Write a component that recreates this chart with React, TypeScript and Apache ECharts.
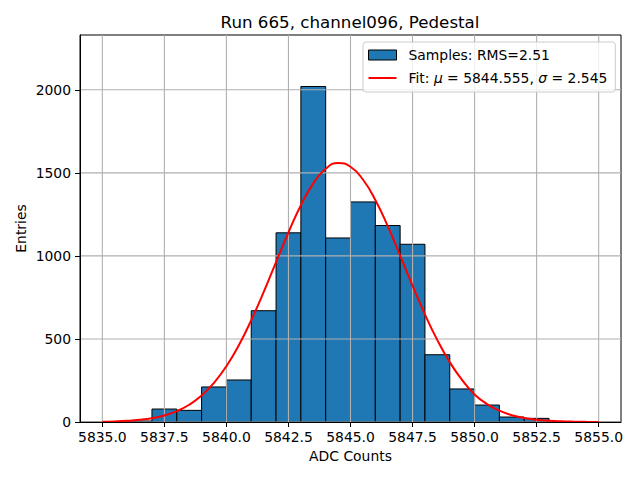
import React, { useEffect, useRef } from "react";
import * as echarts from "echarts";

// Histogram bin edges and counts
const binEdges = [5836, 5837, 5838, 5839, 5840, 5841, 5842, 5843, 5844, 5845, 5846, 5847, 5848, 5849, 5850, 5851, 5852, 5853];
const counts = [6, 78, 70, 211, 253, 670, 1139, 2020, 1108, 1325, 1183, 1070, 405, 199, 102, 30, 22];

// Fit curve samples
const fitX = [5835, 5835.5, 5836, 5836.5, 5837, 5837.5, 5838, 5838.5, 5839, 5839.5, 5840, 5840.5, 5841, 5841.5, 5842, 5842.5, 5843, 5843.5, 5844, 5844.5, 5845, 5845.5, 5846, 5846.5, 5847, 5847.5, 5848, 5848.5, 5849, 5849.5, 5850, 5850.5, 5851, 5851.5, 5852, 5852.5, 5853, 5853.5, 5854, 5854.5, 5855];
const fitY = [1.8, 3.6, 7, 13, 23, 39, 65, 104, 159, 236, 336, 462, 613, 782, 963, 1141, 1305, 1437, 1525, 1560, 1537, 1460, 1337, 1179, 1002, 821, 648, 493, 360, 252, 166, 108, 68, 41, 24, 13.5, 7.5, 4, 2, 1, 0.5];

// Tick labels
const xTicks = [5835, 5837.5, 5840, 5842.5, 5845, 5847.5, 5850, 5852.5, 5855];
const yTicks = [0, 500, 1000, 1500, 2000];

const TITLE = "Run 665, channel096, Pedestal";
const SAMPLES_LABEL = "Samples: RMS=2.51";
const FIT_LABEL = "Fit: {i|μ} = 5844.555, {i|σ} = 2.545";

const FONT = "DejaVu Sans";
const BAR_COLOR = "#1f77b4";
const GRID_COLOR = "#b0b0b0";
const LINE_ICON = "path://M0,0 M28,10 M0,4 L28,4 L28,6 L0,6 Z";

export default function App() {
  const ref = useRef<HTMLDivElement>(null);
  useEffect(() => {
    if (!ref.current) return;
    const chart = echarts.init(ref.current, null, { renderer: "svg" });
    const histData = counts.map((c, i) => [binEdges[i], binEdges[i + 1], c]);
    const fitData = fitX.map((x, i) => [x, fitY[i]]);
    const option: any = {
      animation: false,
      backgroundColor: "#fff",
      textStyle: { fontFamily: FONT },
      title: {
        text: TITLE,
        left: 350,
        top: 13,
        textAlign: "center",
        padding: 0,
        textStyle: { fontFamily: FONT, fontSize: 16.7, fontWeight: "normal", color: "#000" },
      },
      grid: {
        left: 80,
        right: 19,
        top: 35,
        bottom: 58,
        show: true,
        borderColor: "#000",
        borderWidth: 1,
        backgroundColor: "#fff",
      },
      legend: {
        orient: "vertical",
        left: 363,
        top: 42,
        padding: [5, 8, 6, 5],
        itemGap: 7,
        itemWidth: 28,
        itemHeight: 10,
        backgroundColor: "rgba(255,255,255,0.8)",
        borderColor: "#cccccc",
        borderWidth: 1,
        borderRadius: 3,
        z: 10,
        data: [
          { name: "Samples", icon: "rect", itemStyle: { color: BAR_COLOR, borderColor: "#000", borderWidth: 1 } },
          { name: "Fit", icon: LINE_ICON, itemStyle: { color: "#ff0000", borderWidth: 0 } },
        ],
        formatter: (name: string) => (name === "Samples" ? SAMPLES_LABEL : FIT_LABEL),
        textStyle: {
          fontFamily: FONT,
          fontSize: 13.9,
          color: "#000",
          lineHeight: 16,
          padding: [0, 0, 0, 7],
          rich: {
            i: { fontFamily: FONT, fontSize: 13.9, fontStyle: "italic", color: "#000" },
          },
        },
      },
      xAxis: {
        type: "value",
        min: 5834.1,
        max: 5855.9,
        z: 5,
        name: "ADC Counts",
        nameLocation: "middle",
        nameGap: 27,
        nameTextStyle: { fontFamily: FONT, fontSize: 13.9, color: "#000" },
        axisLine: { show: true, onZero: false, lineStyle: { color: "#000", width: 1 } },
        axisTick: { show: true, length: 5, customValues: xTicks, lineStyle: { color: "#000", width: 1 } },
        axisLabel: {
          customValues: xTicks,
          margin: 8,
          fontFamily: FONT,
          fontSize: 13.9,
          color: "#000",
          formatter: (v: number) => v.toFixed(1),
        },
        splitLine: { show: false },
      },
      yAxis: {
        type: "value",
        min: 0,
        max: 2330,
        z: 5,
        name: "Entries",
        nameLocation: "middle",
        nameRotate: 90,
        nameGap: 52,
        nameMoveOverlap: false,
        nameTextStyle: { fontFamily: FONT, fontSize: 13.9, color: "#000" },
        axisLine: { show: true, lineStyle: { color: "#000", width: 1 } },
        axisTick: { show: true, length: 5, customValues: yTicks, lineStyle: { color: "#000", width: 1 } },
        axisLabel: {
          customValues: yTicks,
          margin: 9,
          fontFamily: FONT,
          fontSize: 13.9,
          color: "#000",
          formatter: (v: number) => String(v),
        },
        splitLine: { show: false },
      },
      series: [
        {
          name: "Samples",
          type: "custom",
          z: 2,
          encode: { x: [0, 1], y: 2 },
          data: histData,
          renderItem: (params: any, api: any) => {
            const p0 = api.coord([api.value(0), api.value(2)]);
            const p1 = api.coord([api.value(1), 0]);
            return {
              type: "rect",
              shape: { x: p0[0], y: p0[1], width: p1[0] - p0[0], height: p1[1] - p0[1] },
              style: { fill: BAR_COLOR, stroke: "#000", lineWidth: 1 },
            };
          },
        },
        {
          name: "gridX",
          type: "custom",
          z: 3,
          silent: true,
          encode: { x: 0, y: 1 },
          data: xTicks.map((v) => [v, 0]),
          renderItem: (params: any, api: any) => {
            const cs = params.coordSys;
            const p = api.coord([api.value(0), 0]);
            return {
              type: "line",
              shape: { x1: p[0], y1: cs.y, x2: p[0], y2: cs.y + cs.height },
              style: { stroke: GRID_COLOR, lineWidth: 1.1 },
            };
          },
        },
        {
          name: "gridY",
          type: "custom",
          z: 3,
          silent: true,
          encode: { x: 0, y: 1 },
          data: yTicks.map((v) => [xTicks[0], v]),
          renderItem: (params: any, api: any) => {
            const cs = params.coordSys;
            const p = api.coord([api.value(0), api.value(1)]);
            return {
              type: "line",
              shape: { x1: cs.x, y1: p[1], x2: cs.x + cs.width, y2: p[1] },
              style: { stroke: GRID_COLOR, lineWidth: 1.1 },
            };
          },
        },
        {
          name: "Fit",
          type: "line",
          z: 4,
          data: fitData,
          smooth: true,
          symbol: "none",
          showSymbol: false,
          itemStyle: { color: "#ff0000" },
          lineStyle: { color: "#ff0000", width: 2 },
        },
      ],
    };
    chart.setOption(option);
    return () => chart.dispose();
  }, []);
  return (
    <div
      ref={ref}
      style={{ position: "fixed", left: 0, top: 0, width: 640, height: 480 }}
    />
  );
}
